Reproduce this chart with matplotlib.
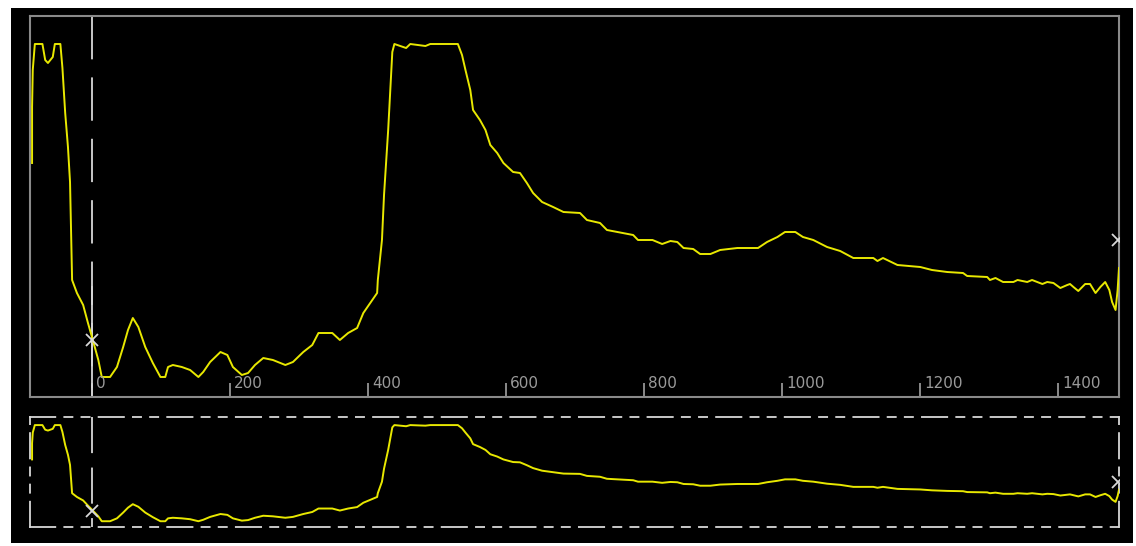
import matplotlib
matplotlib.use("Agg")
import matplotlib.pyplot as plt
import matplotlib.transforms as mtransforms
from matplotlib.patches import Rectangle

# ---- data ----
x_vals = [-87, -87, -86, -83, -72, -68, -64, -57, -54, -46, -43, -39, -35, -32, -29,
          -22, -13, -6, 1, 9, 14, 26, 36, 45, 52, 59, 67, 77, 88, 99, 106, 110, 117,
          130, 142, 154, 161, 171, 186, 196, 204, 217, 226, 236, 248, 262, 280, 291,
          306, 319, 328, 348, 359, 371, 384, 393, 403, 413, 414, 420, 423, 426, 429,
          432, 435, 438, 455, 461, 483, 490, 530, 536, 541, 548, 552, 562, 570, 577,
          587, 596, 610, 620, 630, 639, 652, 668, 683, 707, 717, 736, 746, 761, 784,
          791, 812, 826, 838, 848, 857, 871, 881, 896, 910, 935, 965, 978, 993, 1004,
          1019, 1030, 1045, 1065, 1084, 1103, 1132, 1138, 1146, 1167, 1200, 1217,
          1239, 1262, 1268, 1297, 1301, 1309, 1320, 1335, 1341, 1355, 1362, 1377,
          1384, 1393, 1403, 1413, 1417, 1422, 1429, 1439, 1446, 1454, 1461, 1468,
          1474, 1478, 1483, 1486, 1488]
y_vals = [234, 290, 327, 353, 353, 337, 334, 340, 353, 353, 329, 284, 250, 215, 117,
          104, 92, 74, 57, 37, 20, 20, 30, 50, 67, 79, 70, 50, 34, 20, 20, 30, 32,
          30, 27, 20, 25, 35, 45, 42, 30, 22, 24, 32, 39, 37, 32, 35,
          45, 52, 64, 64, 57, 64, 69, 84, 94, 104, 117, 157, 202, 234, 267,
          306, 345, 353, 349, 353, 351, 353, 353, 342, 327, 307, 287, 277, 267, 252,
          244, 234, 225, 224, 214, 204, 195, 190, 185, 184, 177, 174, 167, 165, 162,
          157, 157, 153, 156, 155, 149, 148, 143, 143, 147, 149, 149, 155, 160, 165,
          165, 160, 157, 150, 146, 139, 139, 136, 139, 132, 130, 127,
          125, 124, 121, 120, 117, 119, 115, 115, 117, 115, 117, 113,
          115, 114, 109, 112, 113, 110, 106, 113, 113, 104, 110, 115,
          107, 95, 87, 107, 129]

tick_vals = [0, 200, 400, 600, 800, 1000, 1200, 1400]
tick_labels = ["0", "200", "400", "600", "800", "1000", "1200", "1400"]

cursor_x = 0
cursor_solid = (10, 110)
marker_left = (0, 57)
marker_right = (1487, 157)
x_range = (-90, 1488)
y_range = (0, 381)

# ---- styling ----
W, H = 1136, 546
LINE = "#e8e800"
GRID = "#8a8a8a"
WHITE = "#d8d8d8"

fig = plt.figure(figsize=(W / 100, H / 100), dpi=100, facecolor="white")
fig.add_artist(Rectangle((11 / W, 3 / H), 1122 / W, 535 / H, transform=fig.transFigure,
                         facecolor="black", edgecolor="none", zorder=-10))

# top panel
ax1 = fig.add_axes([30 / W, 1 - 397 / H, 1089 / W, 381 / H])
ax1.set_facecolor("black")
ax1.plot(x_vals, y_vals, color=LINE, lw=1.4, zorder=3)
ax1.set_xlim(*x_range)
ax1.set_ylim(*y_range)
for s in ax1.spines.values():
    s.set_color(GRID)
    s.set_linewidth(1.5)
ax1.set_xticks(tick_vals)
ax1.set_yticks([])
ax1.tick_params(axis="x", direction="in", length=10, width=1.4, color=GRID,
                labelbottom=False)
base = mtransforms.blended_transform_factory(ax1.transData, ax1.transAxes)
lab_tr = mtransforms.offset_copy(base, fig=fig, x=4, y=6, units="dots")
for v, lab in zip(tick_vals, tick_labels):
    ax1.text(v, 0, lab, transform=lab_tr, ha="left", va="bottom",
             color="#9a9a9a", fontsize=11, family="DejaVu Sans")
ax1.plot([cursor_x, cursor_x], [y_range[1], y_range[0]], color=WHITE, lw=1.3,
         dashes=(24, 10), zorder=2)
ax1.plot([cursor_x, cursor_x], list(cursor_solid), color=WHITE, lw=1.3, zorder=2)
ax1.plot(*marker_left, marker="x", color=WHITE, ms=9, mew=1.3, zorder=4)
ax1.plot(*marker_right, marker="x", color=WHITE, ms=9, mew=1.3, zorder=4,
         clip_on=True)

# bottom overview panel
ax2 = fig.add_axes([30 / W, 1 - 527 / H, 1089 / W, 110 / H])
ax2.set_facecolor("black")
ax2.plot(x_vals, y_vals, color=LINE, lw=1.4, zorder=3)
ax2.set_xlim(*x_range)
ax2.set_ylim(*y_range)
ax2.set_xticks([])
ax2.set_yticks([])
for s in ax2.spines.values():
    s.set_color(WHITE)
    s.set_linewidth(1.3)
    s.set_linestyle((0, (14, 5, 4.5, 5, 4.5, 5)))
ax2.plot([cursor_x, cursor_x], [y_range[1], y_range[0]], color=WHITE, lw=1.3,
         dashes=(20, 8), zorder=2)
ax2.plot(*marker_left, marker="x", color=WHITE, ms=9, mew=1.3, zorder=4)
ax2.plot(*marker_right, marker="x", color=WHITE, ms=9, mew=1.3, zorder=4)

fig.savefig("out.png", dpi=100, facecolor=fig.get_facecolor())
